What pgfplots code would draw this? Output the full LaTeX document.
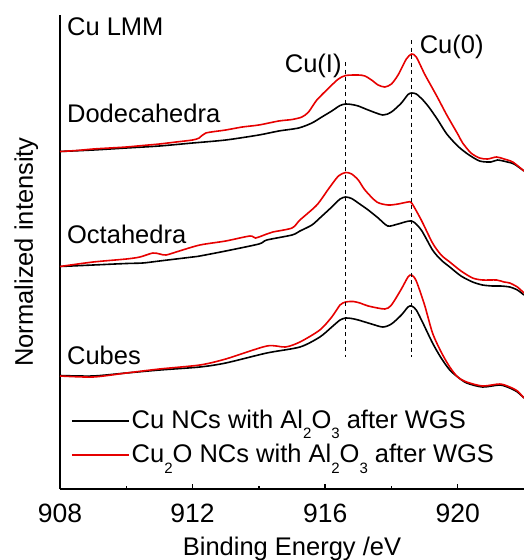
\documentclass[border=0pt]{standalone}
\usepackage{pgfplots}
\pgfplotsset{compat=1.18}
\usepackage{fontspec}
\setmainfont{Liberation Sans}
\definecolor{cured}{RGB}{230,0,0}
\newcommand{\sub}[1]{\raisebox{-0.42em}{\fontsize{15}{15}\selectfont #1}}
\begin{document}
\fontsize{25.5}{30}\selectfont
\begin{tikzpicture}
\begin{axis}[
  scale only axis, width=464pt, height=474pt,
  xmin=908, xmax=922, ymin=15, ymax=489, y dir=reverse,
  axis x line*=bottom, axis y line*=left,
  axis line style={line width=1.4pt},
  xtick={908,912,916,920}, minor xtick={910,914,918},
  ytick=\empty,
  tick align=inside, major tick length=5pt, minor tick length=3pt,
  every tick/.style={black, line width=1.4pt},
  /pgf/number format/assume math mode=true,
  /pgf/number format/1000 sep={},
  xticklabel style={anchor=base, yshift=-33pt, font=\fontsize{26.5}{30}\selectfont},
  xlabel={Binding Energy /eV},
  xlabel style={at={(axis description cs:0.5,0)}, anchor=base, yshift=-66pt},
  ylabel={Normalized intensity},
  ylabel style={at={(axis description cs:-0.0582,0.5)}, anchor=base, rotate=0},
  legend style={draw=none, fill=none, inner sep=0pt, at={(axis cs:908.33,438)}, anchor=west,
     row sep=8pt, font=\fontsize{25.5}{30}\selectfont},
  legend cell align=left,
  legend image code/.code={\draw[#1, line width=1.6pt] (-5pt,0pt) -- (52pt,0pt);},
  clip=false,
  every axis plot/.append style={smooth, tension=0.45},
]
% Dodecahedra
\addplot[black, line width=1.6pt] coordinates {
(908.0,151.5)(909.0,150)(910.0,148)(911.0,146)(912.0,143)(913.0,140)(914.0,135)(914.6,131)(915.2,128)(915.6,123)(915.9,117)(916.2,111)(916.45,105.5)(916.62,104)(916.8,104.5)(917.0,106)(917.3,110)(917.74,115)(918.0,112)(918.3,103)(918.5,94.5)(918.61,93)(918.75,94)(918.95,100)(919.15,108)(919.4,120)(919.67,134)(920.0,146)(920.3,154)(920.66,161)(921.0,162)(921.2,160)(921.5,162)(921.7,164)(922.0,171)};
\addlegendentry{Cu NCs with Al\sub{2}O\sub{3} after WGS}
\addplot[cured, line width=1.6pt] coordinates {
(908.0,151.5)(908.5,150.5)(909.0,149)(909.5,148)(910.0,147)(910.5,145.5)(911.0,144)(911.5,142)(912.0,140)(912.2,138)(912.4,133)(913.0,130)(913.5,127)(914.0,125)(914.6,121)(915.0,119.5)(915.3,117)(915.5,112)(915.75,100)(916.14,87)(916.4,79)(916.62,75.5)(917.0,75)(917.2,76)(917.4,80)(917.6,85)(917.8,87)(918.0,84)(918.2,75)(918.45,59)(918.61,54)(918.75,57)(919.0,74)(919.15,83)(919.4,98)(919.67,115)(920.0,134)(920.15,143)(920.4,153)(920.66,158)(920.9,159)(921.17,157)(921.4,159)(921.66,162)(922.0,171)};
\addlegendentry{Cu\sub{2}O NCs with Al\sub{2}O\sub{3} after WGS}
% Octahedra
\addplot[black, line width=1.6pt, forget plot] coordinates {
(908.0,266.5)(909.0,265)(910.0,263.5)(910.5,263)(911.0,261)(912.0,257)(912.22,256)(913.0,251)(914.0,244)(914.24,240)(915.0,235)(915.24,231)(915.6,225)(915.84,218)(916.2,207)(916.45,199)(916.62,197)(916.8,198.5)(917.0,203)(917.3,210)(917.6,218)(917.89,226)(918.2,224)(918.61,221)(918.9,230)(919.24,250)(919.5,260)(919.76,267)(920.1,276)(920.45,282)(920.75,285)(921.05,286)(921.3,286)(921.57,287)(921.8,290)(922.0,295)};
\addplot[cured, line width=1.6pt, forget plot] coordinates {
(908.0,266.5)(909.0,262)(910.0,259)(910.41,257)(910.8,253)(911.01,254)(911.2,255)(911.6,251)(912.22,245)(913.0,241)(913.73,236)(913.9,238)(914.24,234)(914.42,232)(915.0,228)(915.24,220)(915.75,205)(916.1,189)(916.4,176)(916.62,172.5)(916.8,174)(917.0,180)(917.2,190)(917.56,202)(917.9,205)(918.2,204)(918.5,202)(918.61,203)(918.9,220)(919.24,243)(919.5,255)(919.76,262)(920.1,271)(920.45,278)(920.75,280)(921.17,280)(921.4,282)(921.57,283)(921.8,287)(922.0,293)};
% Cubes
\addplot[black, line width=1.6pt, forget plot] coordinates {
(908.0,375.5)(908.99,376)(910.0,373)(911.01,370)(912.22,367)(913.0,363)(914.24,353)(915.24,347)(915.84,337)(916.2,327)(916.45,320)(916.62,318)(916.8,318.5)(917.0,320)(917.4,324)(917.74,327)(918.0,324)(918.3,315)(918.5,307)(918.61,306)(918.75,310)(918.95,323)(919.24,343)(919.5,358)(919.76,370)(920.0,377)(920.27,383)(920.75,387)(921.27,385)(921.57,388)(921.8,392)(922.0,398)};
\addplot[cured, line width=1.6pt, forget plot] coordinates {
(908.0,376)(909.0,377)(910.0,373)(911.0,369)(912.22,365)(913.0,359)(914.24,346)(914.8,347)(915.24,342)(915.84,330)(916.2,317)(916.45,305)(916.62,302)(916.85,301.5)(917.05,303)(917.3,306)(917.8,309)(918.0,305)(918.3,289)(918.5,277)(918.61,275)(918.75,281)(919.0,305)(919.24,333)(919.5,352)(919.76,367)(920.0,377)(920.27,382)(920.75,386)(921.27,384)(921.57,387)(921.8,391)(922.0,398)};
% dashed markers
\addplot[black, line width=1.2pt, dash pattern=on 4pt off 3.5pt, sharp plot, forget plot] coordinates {(916.62,62)(916.62,357)};
\addplot[black, line width=1.2pt, dash pattern=on 4pt off 3.5pt, sharp plot, forget plot] coordinates {(918.61,40)(918.61,357)};
\node[anchor=base west, inner sep=0pt] at (axis cs:908.21,35) {Cu LMM};
\node[anchor=base west, inner sep=0pt] at (axis cs:908.21,122) {Dodecahedra};
\node[anchor=base west, inner sep=0pt] at (axis cs:908.21,243) {Octahedra};
\node[anchor=base west, inner sep=0pt] at (axis cs:908.21,364) {Cubes};
\node[anchor=base west, inner sep=0pt] at (axis cs:914.78,72) {Cu(I)};
\node[anchor=base west, inner sep=0pt] at (axis cs:918.85,53) {Cu(0)};
\end{axis}
\pgfresetboundingbox
\path[use as bounding box] (-60pt,-71pt) rectangle (464pt,489pt);
\end{tikzpicture}
\end{document}
